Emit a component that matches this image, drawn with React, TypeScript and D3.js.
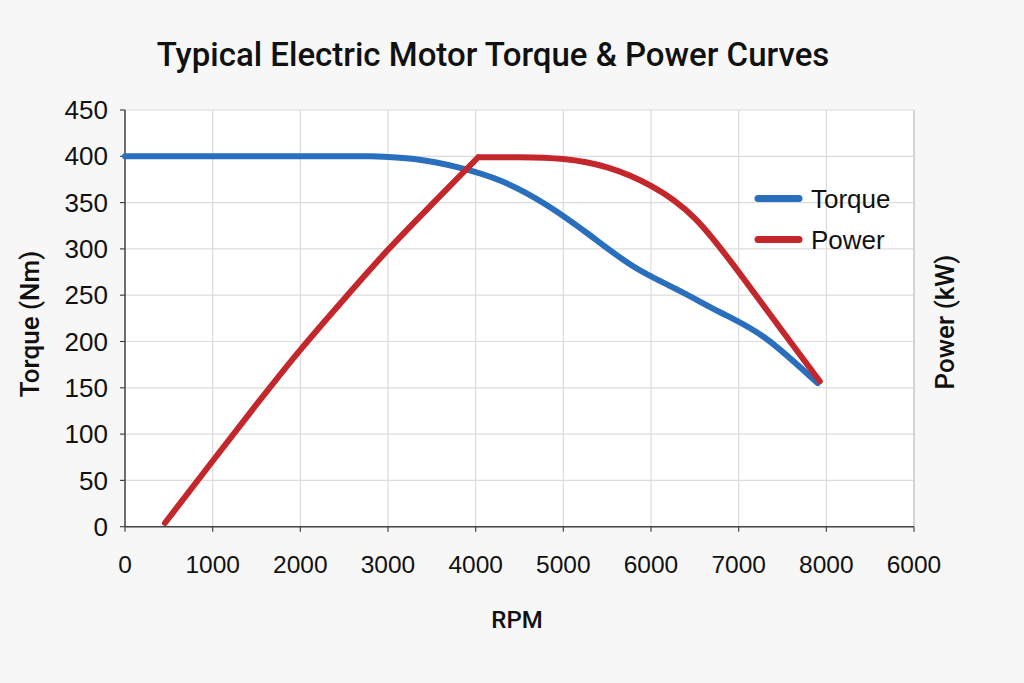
import React from "react";
import * as d3 from "d3";

const rpmTicks = [0, 1000, 2000, 3000, 4000, 5000, 6000, 7000, 8000, 9000];
const rpmTickLabels = ["0", "1000", "2000", "3000", "4000", "5000", "6000", "7000", "8000", "6000"];
const yTicks = [0, 50, 100, 150, 200, 250, 300, 350, 400, 450];

// constant-torque region
const torqueFlatRpm = [0, 2800];
const torqueFlatNm = [400, 400];
// field-weakening region
const torqueFallRpm = [2800, 3300, 3800, 4300, 4800, 5300, 5800, 6300, 6800, 7300, 7900];
const torqueFallNm = [400, 397, 388, 373, 348, 315, 281, 256, 231, 204, 155];

// rising (constant-torque) part of the power curve
const powerRiseRpm = [456, 1000, 1500, 2000, 2500, 3000, 3500, 4029];
const powerRiseKw = [4, 71, 132, 191, 246, 299, 348, 399];
// plateau and fall-off
const powerFallRpm = [4029, 4500, 5000, 5500, 6000, 6500, 7000, 7500, 7925];
const powerFallKw = [399, 399, 397, 388, 368, 333, 275, 211, 157];

const W = 1024;
const H = 683;
const left = 125;
const right = 914;
const top = 110;
const bottom = 526.7;

const BLUE = "#2a6fbe";
const RED = "#c3272b";
const FONT = "'Liberation Sans', Arial, sans-serif";
const TFONT = "Roboto, sans-serif";

const pts = (xs: number[], ys: number[]): [number, number][] => xs.map((v, i) => [v, ys[i]]);

export default function App() {
  const x = d3.scaleLinear().domain([0, 9000]).range([left, right]);
  const y = d3.scaleLinear().domain([0, 450]).range([bottom, top]);

  const smooth = d3
    .line<[number, number]>()
    .x((d) => x(d[0]))
    .y((d) => y(d[1]))
    .curve(d3.curveNatural);
  const straight = d3
    .line<[number, number]>()
    .x((d) => x(d[0]))
    .y((d) => y(d[1]));

  const torquePath =
    (straight(pts(torqueFlatRpm, torqueFlatNm)) || "") + (smooth(pts(torqueFallRpm, torqueFallNm)) || "");
  const powerPath =
    (smooth(pts(powerRiseRpm, powerRiseKw)) || "") + (smooth(pts(powerFallRpm, powerFallKw)) || "");

  return (
    <svg
      width={W}
      height={H}
      style={{ position: "absolute", left: 0, top: 0 }}
      xmlns="http://www.w3.org/2000/svg"
    >
      <rect x={0} y={0} width={W} height={H} fill="#f7f7f7" />
      <rect x={left} y={top} width={right - left} height={bottom - top} fill="#ffffff" />

      {/* grid */}
      {yTicks.map((t) => (
        <line key={"gy" + t} x1={left} x2={right} y1={y(t)} y2={y(t)} stroke="#dcdcdc" strokeWidth={1.2} />
      ))}
      {rpmTicks.map((t) => (
        <line key={"gx" + t} x1={x(t)} x2={x(t)} y1={top} y2={bottom} stroke="#dcdcdc" strokeWidth={1.2} />
      ))}
      <line x1={right} x2={right} y1={top} y2={bottom} stroke="#c8c8c8" strokeWidth={1.2} />

      {/* axes */}
      <line x1={left} x2={left} y1={top} y2={bottom} stroke="#444" strokeWidth={1.5} />
      <line x1={left} x2={right} y1={bottom} y2={bottom} stroke="#444" strokeWidth={1.5} />
      {yTicks.map((t) => (
        <line key={"ty" + t} x1={left - 5} x2={left} y1={y(t)} y2={y(t)} stroke="#444" strokeWidth={1.2} />
      ))}
      {rpmTicks.map((t) => (
        <line key={"tx" + t} x1={x(t)} x2={x(t)} y1={bottom} y2={bottom + 5} stroke="#444" strokeWidth={1.2} />
      ))}

      {/* tick labels */}
      {yTicks.map((t) => (
        <text
          key={"ly" + t}
          x={108}
          y={y(t)}
          dy="0.35em"
          textAnchor="end"
          fontFamily={FONT}
          fontSize={26}
          fill="#111"
        >
          {t}
        </text>
      ))}
      {rpmTicks.map((t, i) => (
        <text
          key={"lx" + t}
          x={x(t)}
          y={573}
          textAnchor="middle"
          fontFamily={FONT}
          fontSize={24.5}
          fill="#111"
        >
          {rpmTickLabels[i]}
        </text>
      ))}

      {/* curves */}
      <path d={torquePath} fill="none" stroke={BLUE} strokeWidth={6} strokeLinecap="round" strokeLinejoin="round" />
      <path d={powerPath} fill="none" stroke={RED} strokeWidth={6} strokeLinecap="round" strokeLinejoin="round" />

      {/* legend */}
      <line x1={758} x2={799} y1={198.5} y2={198.5} stroke={BLUE} strokeWidth={7} strokeLinecap="round" />
      <line x1={758} x2={799} y1={239.5} y2={239.5} stroke={RED} strokeWidth={7} strokeLinecap="round" />
      <text x={811} y={207.5} fontFamily={FONT} fontSize={26} fill="#111">Torque</text>
      <text x={811} y={248.5} fontFamily={FONT} fontSize={26} fill="#111">Power</text>

      {/* titles */}
      <text x={493} y={66} textAnchor="middle" fontFamily={TFONT} fontWeight={500} fontSize={33} fill="#111">
        Typical Electric Motor Torque &amp; Power Curves
      </text>
      <text x={517} y={628} textAnchor="middle" fontFamily={TFONT} fontWeight={500} fontSize={24} fill="#111">
        RPM
      </text>
      <text
        transform="translate(39,324) rotate(-90)"
        textAnchor="middle"
        fontFamily={TFONT}
        fontWeight={500}
        fontSize={26}
        fill="#111"
      >
        Torque (Nm)
      </text>
      <text
        transform="translate(954,322) rotate(-90)"
        textAnchor="middle"
        fontFamily={TFONT}
        fontWeight={500}
        fontSize={26}
        fill="#111"
      >
        Power (kW)
      </text>
    </svg>
  );
}
